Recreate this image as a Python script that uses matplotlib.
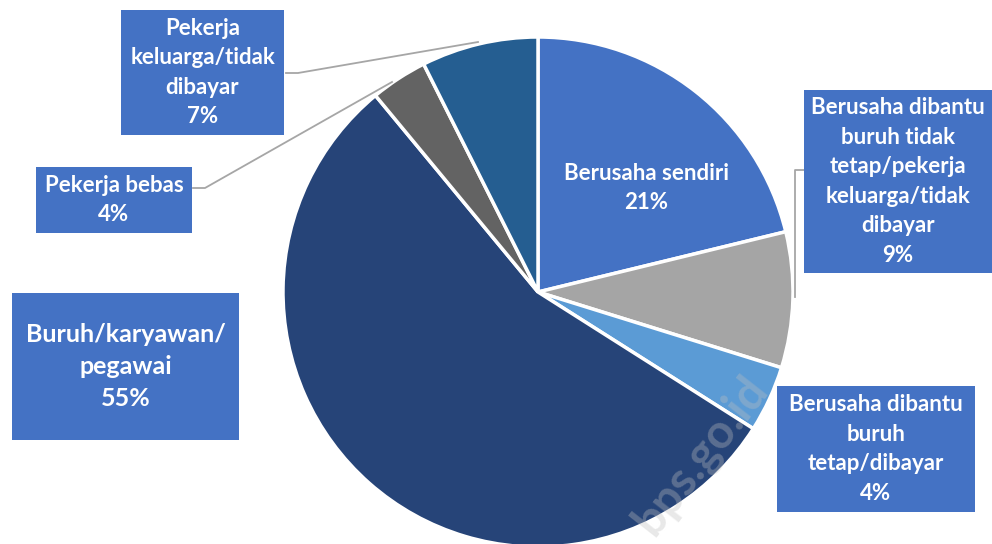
"""Pie - status pekerjaan"""
import numpy as np, matplotlib
matplotlib.use('Agg')
import matplotlib.pyplot as plt
plt.rcParams.update({'font.family': ['Lato', 'DejaVu Sans'], 'font.weight': 'bold'})

categories = ['Berusaha sendiri',
              'Berusaha dibantu\nburuh tidak\ntetap/pekerja\nkeluarga/tidak\ndibayar',
              'Berusaha dibantu\nburuh\ntetap/dibayar',
              'Buruh/karyawan/\npegawai',
              'Pekerja bebas',
              'Pekerja\nkeluarga/tidak\ndibayar']
values = [21.2, 8.6, 4.2, 55.0, 3.6, 7.4]
pct_labels = ['21%', '9%', '4%', '55%', '4%', '7%']
colors = ['#4472C4', '#A5A5A5', '#5B9BD5', '#264478', '#636363', '#255E91']

W, H = 992, 544
fig = plt.figure(figsize=(W/100, H/100), dpi=100, facecolor='white')
ax = fig.add_axes([0, 0, 1, 1])

cx, cy, r = 538, H-292, 255
ax.pie(values, colors=colors, startangle=90, counterclock=False, center=(cx, cy), radius=r,
       wedgeprops=dict(edgecolor='white', linewidth=2.5), frame=True)
ax.set_xlim(0, W); ax.set_ylim(0, H); ax.set_aspect('equal'); ax.axis('off')

# label boxes: (x0, y0_top, x1, y1_bottom) in pixel coords
boxes = [None, (804, 90, 992, 273), (777, 386, 975, 512), (12, 293, 239, 440),
         (36, 167, 192, 233), (121, 10, 284, 135)]
sizes = [16, 16, 16, 18, 16, 16]
BOX = '#4472C4'
LS = 1.5
for i, (cat, pct) in enumerate(zip(categories, pct_labels)):
    txt = f'{cat}\n{pct}'
    if boxes[i] is None:
        ax.text(646, H-188, txt, ha='center', va='center', color='white', fontsize=sizes[i],
                fontweight='bold', linespacing=LS)
        continue
    x0, y0, x1, y1 = boxes[i]
    ax.add_patch(plt.Rectangle((x0, H-y1), x1-x0, y1-y0, facecolor=BOX, edgecolor='none', zorder=3))
    ax.text((x0+x1)/2, H-(y0+y1)/2, txt, ha='center', va='center', color='white', fontsize=sizes[i],
            fontweight='bold', linespacing=LS, zorder=4)

# leader lines
lc = '#A6A6A6'
ax.plot([286, 298, 478], [H-73, H-73, H-42], color=lc, lw=1.3, zorder=2)
ax.plot([193, 205, 392], [H-188, H-188, H-82], color=lc, lw=1.3, zorder=2)
ax.plot([804, 795, 795], [H-170, H-170, H-297], color=lc, lw=1.3, zorder=2)

# watermark
ax.text(700, H-455, 'bps.go.id', rotation=52, ha='center', va='center', fontsize=34,
        color='#BFBFBF', alpha=0.35, fontweight='bold', zorder=5)

fig.savefig('out.png', dpi=100, facecolor='white')
